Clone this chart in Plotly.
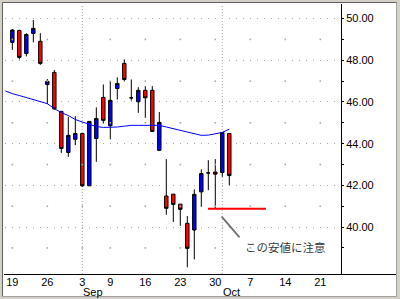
import plotly.graph_objects as go

# ---------------- data ----------------
dates = ["08-19","08-20","08-21","08-22","08-23","08-26","08-27","08-28","08-29","08-30",
         "09-03","09-04","09-05","09-06","09-09","09-10","09-11","09-12","09-13","09-16",
         "09-17","09-18","09-19","09-20","09-23","09-24","09-25","09-26","09-27","09-30",
         "10-01","10-02"]
opens  = [48.86,49.43,48.33,49.29,48.91,46.84,47.42,45.55,43.58,44.21,
          44.49,41.98,44.25,46.22,44.86,46.65,47.85,46.20,46.01,46.56,
          46.56,43.68,41.49,41.58,41.10,40.18,39.86,41.69,42.60,42.64,
          42.62,44.49]
highs  = [49.50,49.47,49.30,49.93,49.30,47.10,47.53,45.56,45.29,45.32,
          44.50,45.08,45.74,46.84,46.99,47.18,48.04,47.08,46.71,46.76,
          46.76,45.52,43.26,41.59,41.11,40.53,41.81,42.77,43.21,43.26,
          44.56,44.50]
lows   = [48.50,48.04,48.19,48.86,47.78,45.90,45.63,43.56,43.37,43.93,
          41.93,41.97,43.13,44.97,44.21,46.12,46.99,46.07,45.48,45.24,
          44.57,43.66,40.59,40.25,40.06,38.07,38.45,40.97,41.77,40.88,
          42.41,42.01]
closes = [49.45,48.14,49.24,49.53,47.85,46.99,45.67,43.77,44.40,44.49,
          41.98,45.07,45.21,45.12,46.08,46.89,47.08,46.20,46.56,46.20,
          44.59,45.02,40.90,41.09,40.85,38.98,41.57,42.57,42.60,42.54,
          44.54,42.47]

# moving average (starts one session before the first candle)
ma_index = list(range(-1, 32))
ma_values = [46.53,46.40,46.31,46.22,46.12,46.03,45.92,45.68,45.49,45.35,
             45.16,45.04,44.92,44.82,44.78,44.78,44.80,44.84,44.88,44.88,
             44.88,44.88,44.88,44.80,44.72,44.63,44.54,44.46,44.40,44.41,
             44.46,44.54,44.70]

# support line ("watch this low")
support_x = [27.96, 36.24]
support_level = 40.88

tick_index = [0, 5, 10, 14, 19, 24, 29, 34, 39, 44]
tick_text = ["19", "26", "3", "9", "16", "23", "30", "7", "14", "21"]
month_index = [10, 30]
month_text = ["Sep", "Oct"]
price_ticks = [40, 42, 44, 46, 48, 50]
odd_levels = [39, 41, 43, 45, 47, 49]

note_text = "この安値に注意"

# ---------------- layout helpers ----------------
W, H = 400, 299
L, R, T, B = 4, 341, 4, 274
def px(x):
    return (x - L) / (R - L)
def py(y):
    return (B - y) / (B - T)

xr = [-1.19, 46.96]
yr = [37.75, 50.70]

x_idx = list(range(len(dates)))

fig = go.Figure()

# sparse dots on odd price levels at each week tick
dot_x = [t for lv in odd_levels for t in tick_index]
dot_y = [lv for lv in odd_levels for t in tick_index]
fig.add_trace(go.Scatter(x=dot_x, y=dot_y, mode="markers",
                         marker=dict(symbol="square", size=1.6, color="#a8a8a8", line=dict(width=0)),
                         hoverinfo="skip", showlegend=False))

fig.add_trace(go.Scatter(x=ma_index, y=ma_values, mode="lines",
                         line=dict(color="#0000ff", width=1),
                         hoverinfo="skip", showlegend=False))

fig.add_trace(go.Candlestick(
    x=x_idx, open=opens, high=highs, low=lows, close=closes,
    increasing=dict(line=dict(color="black", width=1), fillcolor="#0000ff"),
    decreasing=dict(line=dict(color="black", width=1), fillcolor="#ff0000"),
    whiskerwidth=0, showlegend=False))

fig.add_trace(go.Scatter(x=support_x, y=[support_level, support_level], mode="lines",
                         line=dict(color="#ff0000", width=2),
                         hoverinfo="skip", showlegend=False))

shapes = []
# month separators
for m in month_index:
    shapes.append(dict(type="line", xref="x", yref="paper", x0=m, x1=m, y0=0, y1=1,
                       line=dict(color="#a8a8a8", width=1, dash="1px,2px"), layer="below"))
# pointer line for note
shapes.append(dict(type="line", xref="paper", yref="paper",
                   x0=px(221.7), y0=py(216.7), x1=px(239.5), y1=py(237.3),
                   line=dict(color="#707070", width=1.8)))
# bottom axis line across full width
shapes.append(dict(type="line", xref="paper", yref="paper",
                   x0=px(4), x1=px(396), y0=py(274.5), y1=py(274.5),
                   line=dict(color="black", width=1)))
# window frame
frame_col = "#d4d0c8"
shapes += [
    dict(type="rect", xref="paper", yref="paper", x0=px(0), x1=px(400), y0=py(0), y1=py(3),
         fillcolor=frame_col, line=dict(width=0)),
    dict(type="rect", xref="paper", yref="paper", x0=px(0), x1=px(3), y0=py(0), y1=py(299),
         fillcolor=frame_col, line=dict(width=0)),
    dict(type="rect", xref="paper", yref="paper", x0=px(396), x1=px(400), y0=py(0), y1=py(299),
         fillcolor=frame_col, line=dict(width=0)),
    dict(type="rect", xref="paper", yref="paper", x0=px(0), x1=px(400), y0=py(296), y1=py(299),
         fillcolor=frame_col, line=dict(width=0)),
    dict(type="line", xref="paper", yref="paper", x0=px(2.5), x1=px(397), y0=py(2.5), y1=py(2.5),
         line=dict(color="#606060", width=1)),
    dict(type="line", xref="paper", yref="paper", x0=px(2.5), x1=px(2.5), y0=py(2.5), y1=py(296.5),
         line=dict(color="#606060", width=1)),
    dict(type="line", xref="paper", yref="paper", x0=px(396.5), x1=px(396.5), y0=py(2.5), y1=py(296.5),
         line=dict(color="#a0a0a0", width=1)),
    dict(type="line", xref="paper", yref="paper", x0=px(2.5), x1=px(396.5), y0=py(296.5), y1=py(296.5),
         line=dict(color="#a0a0a0", width=1)),
]

annotations = []
for m, t in zip(month_index, month_text):
    annotations.append(dict(x=m, xref="x", y=py(292), yref="paper", text=t, showarrow=False,
                            xanchor="left", yanchor="middle", xshift=-1,
                            font=dict(family="Liberation Sans, Arial", size=11, color="black")))
annotations.append(dict(x=px(285), xref="paper", y=py(247), yref="paper", text=note_text,
                        showarrow=False, xanchor="center", yanchor="middle",
                        font=dict(family="Noto Sans CJK JP", size=11.5, color="#3a3a3a")))

fig.update_layout(
    width=W, height=H,
    margin=dict(l=L, r=W - R, t=T, b=H - B),
    paper_bgcolor="white", plot_bgcolor="white",
    showlegend=False,
    shapes=shapes, annotations=annotations,
    font=dict(family="Liberation Sans, Arial", size=11, color="black"),
    xaxis=dict(range=xr, rangeslider=dict(visible=False), showgrid=False, zeroline=False,
               showline=False, tickmode="array", tickvals=tick_index, ticktext=tick_text,
               ticks="", tickfont=dict(size=11), fixedrange=True),
    yaxis=dict(range=yr, side="right", showline=True, linecolor="black", linewidth=1,
               tickmode="array", tickvals=price_ticks,
               ticktext=[f"{v:.2f}" for v in price_ticks],
               ticks="outside", ticklen=2, tickcolor="black",
               showgrid=True, gridcolor="#a8a8a8", gridwidth=1, griddash="0px,1px,1px,5px",
               minor=dict(tickmode="array", tickvals=odd_levels, ticks="outside", ticklen=2,
                          tickcolor="black", showgrid=False),
               zeroline=False, tickfont=dict(size=11), fixedrange=True),
    hovermode=False,
)

fig.write_html("out.html")
